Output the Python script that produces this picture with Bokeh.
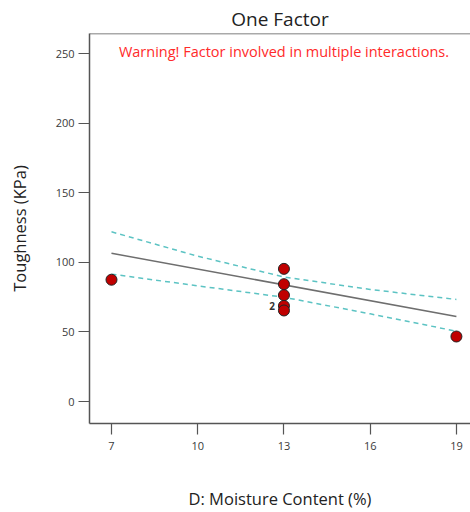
from bokeh.plotting import figure
from bokeh.models import ColumnDataSource, Label, Span, FixedTicker, Range1d
from bokeh.core.properties import value
from bokeh.embed import file_html
from bokeh.resources import INLINE

# Data
moisture = [7, 13, 13, 13, 13, 13, 19]
toughness = [87.5, 95.3, 84.3, 76.4, 68.7, 65.4, 46.7]
counts = [1, 1, 1, 1, 2, 1, 1]

fit_x = [7, 19]
fit_y = [106.5, 61.1]

ci_x = [7, 10, 13, 16, 19]
ci_upper = [121.9, 104.4, 89.5, 80.5, 73.3]
ci_lower = [91.5, 83.1, 74.9, 63.0, 50.5]

x_ticks = [7, 10, 13, 16, 19]
y_ticks = [0, 50, 100, 150, 200, 250]

FONT = "Open Sans"

p = figure(width=470, height=512, output_backend="svg", toolbar_location=None,
           x_range=Range1d(6.235, 19.49), y_range=Range1d(-15.8, 264.4),
           min_border_left=89, min_border_right=0, min_border_top=33,
           min_border_bottom=89)

p.title.text = "One Factor"
p.title.align = "center"
p.title.text_font = FONT
p.title.text_font_size = "19px"
p.title.text_font_style = "normal"
p.title.text_color = "#222222"
p.title.offset = 3
p.title.standoff = 4

p.outline_line_color = None
p.grid.visible = False
p.background_fill_color = "white"
p.border_fill_color = "white"

p.add_layout(Span(location=264.4, dimension="width", line_color="#555555", line_width=1.5))

for ax in (p.xaxis[0], p.yaxis[0]):
    ax.axis_line_color = "#555555"
    ax.axis_line_width = 1.5
    ax.major_tick_line_color = "#555555"
    ax.major_tick_line_width = 1.2
    ax.major_tick_in = 0
    ax.major_tick_out = 11
    ax.minor_tick_line_color = None
    ax.major_label_text_font = FONT
    ax.major_label_text_font_size = "11px"
    ax.major_label_text_color = "#3a3a3a"
    ax.axis_label_text_font = FONT
    ax.axis_label_text_font_size = "16.5px"
    ax.axis_label_text_font_style = "normal"
    ax.axis_label_text_color = "#222222"

p.xaxis.ticker = FixedTicker(ticks=x_ticks)
p.yaxis.ticker = FixedTicker(ticks=y_ticks)
p.xaxis.axis_label = "D: Moisture Content (%)"
p.yaxis.axis_label = "Toughness (KPa)"
p.xaxis.major_label_standoff = 7
p.xaxis.axis_label_standoff = 34
p.yaxis.major_label_standoff = 4
p.yaxis.axis_label_standoff = 22

p.line(ci_x, ci_upper, line_color="#5cc3c3", line_width=1.5, line_dash="5 4")
p.line(ci_x, ci_lower, line_color="#5cc3c3", line_width=1.5, line_dash="5 4")
p.line(fit_x, fit_y, line_color="#6e6e6e", line_width=1.5)

src = ColumnDataSource(dict(x=moisture, y=toughness))
p.scatter("x", "y", source=src, size=11, fill_color="#c00000", line_color="#222222", line_width=1)

multi = [(x, y, str(c)) for x, y, c in zip(moisture, toughness, counts) if c > 1]
if multi:
    p.text([m[0] for m in multi], [m[1] for m in multi], text=[m[2] for m in multi],
           x_offset=-9, text_align="right", text_baseline="middle",
           text_font=value(FONT), text_font_size="10px", text_font_style="bold",
           text_color="#333333")

p.add_layout(Label(x=13.0, y=251.4, text="Warning! Factor involved in multiple interactions.",
                   text_align="center", text_baseline="middle", text_font=FONT,
                   text_font_size="14.5px", text_color="#ff2a2a"))

open("out.html", "w").write(file_html(p, INLINE))
